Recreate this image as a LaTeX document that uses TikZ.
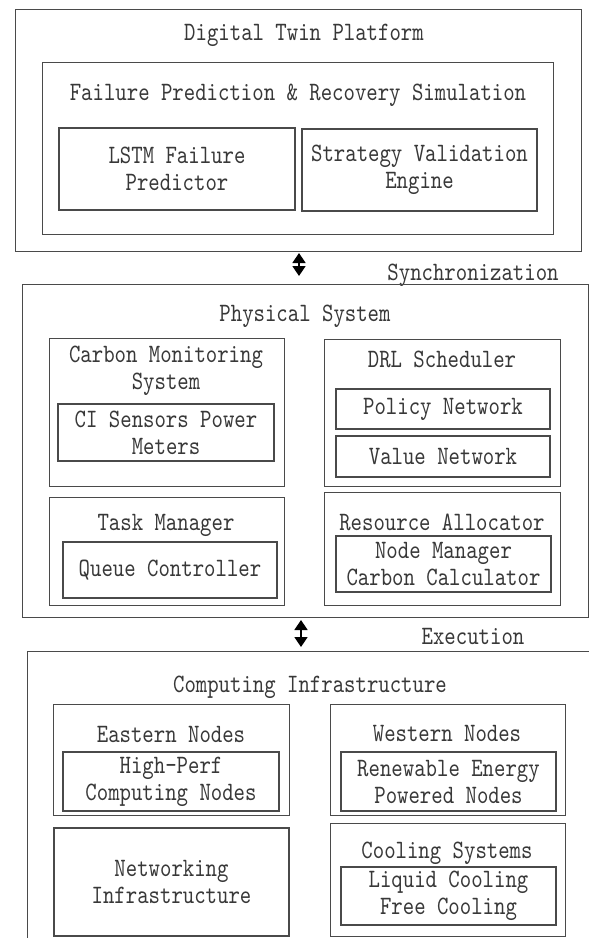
\documentclass[tikz,border=0pt]{standalone}
\usepackage{fontspec}
\setmonofont[FakeStretch=0.82]{lmmono10-regular.otf}
\usepackage{tikz}
\usetikzlibrary{arrows.meta}

\definecolor{edge}{HTML}{4A4A4A}
\definecolor{ink}{HTML}{383838}

\tikzset{
  frame/.style={draw=edge,line width=1.2pt,inner sep=0pt,anchor=north west},
  box/.style={draw=edge,line width=1.2pt,inner sep=0pt,align=center,text=ink},
  title/.style={text=ink,align=center,inner sep=0pt},
  sync/.style={draw=black,line width=1.6pt,
    {Triangle[width=13pt,length=10pt]}-{Triangle[width=13pt,length=10pt]}}
}

\begin{document}
\begin{tikzpicture}[x=1pt,y=-1pt,font=\ttfamily\fontsize{26.5}{27}\selectfont]
\useasboundingbox (0,0) rectangle (589,938);
\clip (0,0) rectangle (589,938);
\fill[white] (0,0) rectangle (589,938);

    % digital twin layer
    \node[frame,minimum width=566,minimum height=242] (twin) at (15,9) {};
    \node[title] (twintitle) at (304,35) {Digital Twin Platform};
    \node[frame,minimum width=511,minimum height=172] (sim) at (42,62) {};
    \node[title] (simtitle) at (298,95) {Failure Prediction \& Recovery Simulation};
    \node[box,minimum width=236,minimum height=82] (lstm) at (177,169) {LSTM Failure\\Predictor};
    \node[box,minimum width=235,minimum height=82] (valid) at (419.5,170) {Strategy Validation\\Engine};

    \coordinate (synctop) at (299,253);
    \coordinate (syncbot) at (299,276);
    \draw[sync] (synctop) -- (syncbot);
    \node[title] (synclabel) at (473,275) {Synchronization};

    % physical layer
    \node[frame,minimum width=566,minimum height=333] (phys) at (22,284) {};
    \node[title] (physititle) at (305,316) {Physical System};

    \node[frame,minimum width=235,minimum height=148] (carbon) at (49,338) {};
    \node[title] (carbontitle) at (166,371) {Carbon Monitoring\\System};
    \node[box,minimum width=216,minimum height=57] (sensors) at (166,432.5) {CI Sensors Power\\Meters};

    \node[frame,minimum width=236,minimum height=147] (drl) at (324,339) {};
    \node[title] (drltitle) at (442,359) {DRL Scheduler};
    \node[box,minimum width=214,minimum height=40] (policy) at (443,409) {Policy Network};
    \node[box,minimum width=214,minimum height=41] (value) at (443,456.5) {Value Network};

    \node[frame,minimum width=235,minimum height=108] (task) at (49,497) {};
    \node[title] (tasktitle) at (166,525) {Task Manager};
    \node[box,minimum width=214,minimum height=56] (queue) at (170,570) {Queue Controller};

    \node[frame,minimum width=236,minimum height=113] (alloc) at (324,492) {};
    \node[title] (alloctitle) at (442,522) {Resource Allocator};
    \node[box,minimum width=215,minimum height=56] (nodemgr) at (443.5,564) {Node Manager\\Carbon Calculator};

    \coordinate (exectop) at (301,620);
    \coordinate (execbot) at (301,647);
    \draw[sync] (exectop) -- (execbot);
    \node[title] (execlabel) at (473,636) {Execution};

    % computing layer
    \node[frame,minimum width=600,minimum height=320] (infra) at (27,651) {};
    \node[title] (infratitle) at (310,687) {Computing Infrastructure};

    \node[frame,minimum width=236,minimum height=111] (east) at (53,704) {};
    \node[title] (easttitle) at (171,734) {Eastern Nodes};
    \node[box,minimum width=216,minimum height=59] (hpc) at (171,781.5) {High-Perf\\Computing Nodes};

    \node[frame,minimum width=235,minimum height=111] (west) at (330,704) {};
    \node[title] (westtitle) at (447,734) {Western Nodes};
    \node[box,minimum width=215,minimum height=59] (green) at (448.5,781.5) {Renewable Energy\\Powered Nodes};

    \node[box,minimum width=235,minimum height=108] (net) at (171.5,882) {Networking\\Infrastructure};

    \node[frame,minimum width=235,minimum height=113] (cool) at (330,823) {};
    \node[title] (cooltitle) at (447,853) {Cooling Systems};
    \node[box,minimum width=215,minimum height=58] (coolers) at (448.5,896) {Liquid Cooling\\Free Cooling};

\end{tikzpicture}
\end{document}
